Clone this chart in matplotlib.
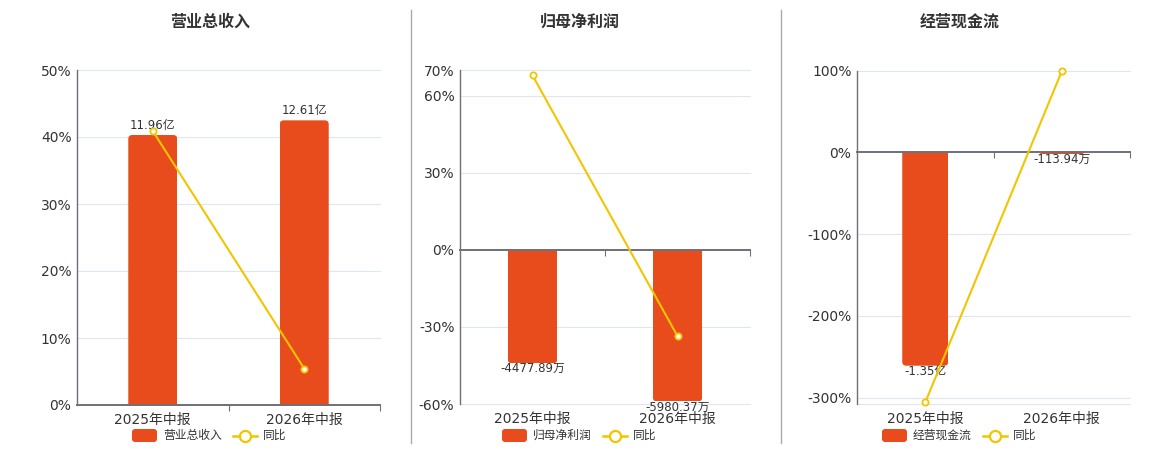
import matplotlib
matplotlib.use("Agg")
import matplotlib.pyplot as plt
from matplotlib.patches import FancyBboxPatch
from matplotlib.lines import Line2D
from matplotlib import transforms

plt.rcParams['font.family'] = ['DejaVu Sans', 'Noto Sans CJK SC']

# ---------------- data ----------------
categories = ['2025年中报', '2026年中报']
titles = ['营业总收入', '归母净利润', '经营现金流']
bar_names = ['营业总收入', '归母净利润', '经营现金流']
line_name = '同比'

revenue = [11.96, 12.61]            # 亿
revenue_labels = ['11.96亿', '12.61亿']
revenue_yoy = [40.9, 5.43]          # %

profit = [-4477.89, -5980.37]       # 万
profit_labels = ['-4477.89万', '-5980.37万']
profit_yoy = [67.9, -33.55]         # %

cashflow = [-13500.0, -113.94]      # 万
cashflow_labels = ['-1.35亿', '-113.94万']
cashflow_yoy = [-306.0, 99.2]       # %

pct_ticks = [[0, 10, 20, 30, 40, 50],
             [-60, -30, 0, 30, 60, 70],
             [-300, -200, -100, 0, 100]]
pct_limits = [(0, 50), (-60, 70), (-308.3, 100)]
bar_limits = [(0, 14.84), (-6084, 7098), (-15943, 5171)]

# ---------------- style ----------------
W, H = 1160, 450
BAR_C = '#E84B1C'
LINE_C = '#F2C500'
GRID_C = '#E0E6F1'
AXIS_C = '#6E7079'
TEXT_C = '#333333'

fig = plt.figure(figsize=(W / 100, H / 100), dpi=100)
fig.patch.set_facecolor('white')
px = transforms.Affine2D().scale(1 / 100) + fig.dpi_scale_trans  # pixel coords (origin bottom-left)

def P(y):
    return H - y

panels = [
    dict(rect=(77, 70, 380, 405), bw=0.323, bars=revenue, labels=revenue_labels, yoy=revenue_yoy, cx=210),
    dict(rect=(460, 70, 750, 404), bw=0.34, bars=profit, labels=profit_labels, yoy=profit_yoy, cx=580),
    dict(rect=(857, 70.7, 1130, 404.3), bw=0.337, bars=cashflow, labels=cashflow_labels, yoy=cashflow_yoy, cx=960),
]

xs = list(range(len(categories)))

for i, pnl in enumerate(panels):
    x0, y0, x1, y1 = pnl['rect']
    pos = [x0 / W, (H - y1) / H, (x1 - x0) / W, (y1 - y0) / H]
    wpx, hpx = x1 - x0, y1 - y0

    # base axes: gridlines
    axg = fig.add_axes(pos)
    axg.set_xlim(-0.5, 1.5)
    axg.set_ylim(*pct_limits[i])
    for t in pct_ticks[i]:
        if t != 0:
            axg.axhline(t, color=GRID_C, lw=0.8, clip_on=False)
    if i == 2:
        axg.axhline(pct_limits[i][0], color=GRID_C, lw=0.8, clip_on=False)
    axg.axis('off')

    # bar axes
    axb = fig.add_axes(pos)
    axb.set_xlim(-0.5, 1.5)
    axb.set_ylim(*bar_limits[i])
    axb.axis('off')
    bars = axb.bar(xs, pnl['bars'], width=pnl['bw'], color=BAR_C)
    x_per_px = 2.0 / wpx
    y_per_px = (bar_limits[i][1] - bar_limits[i][0]) / hpx
    rad = 4
    for rect in bars:
        bx, bw_, bh = rect.get_x(), rect.get_width(), rect.get_height()
        ext = 2 * rad * y_per_px
        if bh >= 0:
            ry, rh = -ext, bh + ext
        else:
            ry, rh = bh, -bh + ext
        fp = FancyBboxPatch((bx, ry), bw_, rh,
                            boxstyle=f"round,pad=0,rounding_size={rad * x_per_px}",
                            mutation_aspect=y_per_px / x_per_px,
                            fc=BAR_C, ec='none')
        axb.add_patch(fp)
        fp.set_clip_path(rect)
        rect.set_visible(False)
    for xi, v, lab in zip(xs, pnl['bars'], pnl['labels']):
        off = 7.2 if v >= 0 else -4.0
        axb.annotate(lab, xy=(xi, v), xytext=(0, off), textcoords='offset points',
                     ha='center', va='center', fontsize=8.5, color=TEXT_C)

    # line / axis axes
    axl = fig.add_axes(pos)
    axl.set_xlim(-0.5, 1.5)
    axl.set_ylim(*pct_limits[i])
    axl.patch.set_visible(False)
    for s in ['top', 'right']:
        axl.spines[s].set_visible(False)
    axl.spines['left'].set_color(AXIS_C)
    axl.spines['left'].set_linewidth(1.0)
    axl.spines['bottom'].set_position(('data', 0))
    axl.spines['bottom'].set_color(AXIS_C)
    axl.spines['bottom'].set_linewidth(1.4)
    axl.set_yticks(pct_ticks[i])
    axl.set_yticklabels([f'{t}%' for t in pct_ticks[i]])
    axl.tick_params(axis='y', length=0, pad=4, labelsize=10, labelcolor=TEXT_C)
    axl.set_xticks([0.5, 1.5])
    axl.set_xticklabels(['', ''])
    axl.tick_params(axis='x', length=4, width=0.8, color=AXIS_C, direction='out')
    for xi, c in zip(xs, categories):
        axl.annotate(c, xy=(xi, 0), xycoords=('data', 'axes fraction'),
                     xytext=(0, -10.8), textcoords='offset points',
                     ha='center', va='center', fontsize=10, color=TEXT_C)
    axl.plot(xs, pnl['yoy'], color=LINE_C, lw=1.5, marker='o', ms=4.5,
             mfc='white', mec=LINE_C, mew=1.3, clip_on=False, zorder=5)

    # title
    fig.text(pnl['cx'] / W, (H - 22) / H, titles[i], ha='center', va='center',
             fontsize=11.5, fontweight='bold', color=TEXT_C)

    # legend
    cx = pnl['cx']
    ly = P(435.5)
    fig.patches.append(FancyBboxPatch((cx - 78, ly - 6.5), 25, 13,
                                      boxstyle="round,pad=0,rounding_size=3",
                                      fc=BAR_C, ec='none', transform=px, figure=fig))
    fig.text(cx - 47, ly, bar_names[i], transform=px, ha='left', va='center',
             fontsize=8.5, color=TEXT_C)
    fig.lines.append(Line2D([cx + 23, cx + 47], [ly, ly], color=LINE_C, lw=1.8,
                            transform=px, figure=fig))
    fig.lines.append(Line2D([cx + 35], [ly], color=LINE_C, marker='o', ms=8,
                            mfc='white', mec=LINE_C, mew=1.6, transform=px, figure=fig))
    fig.text(cx + 53, ly, line_name, transform=px, ha='left', va='center',
             fontsize=8.5, color=TEXT_C)

# separators
for sx in [410.5, 780.5]:
    fig.lines.append(Line2D([sx, sx], [P(10), P(443)], color='#AAAAAA', lw=1.0,
                            transform=px, figure=fig))

fig.savefig('out.png', dpi=100, facecolor='white')
